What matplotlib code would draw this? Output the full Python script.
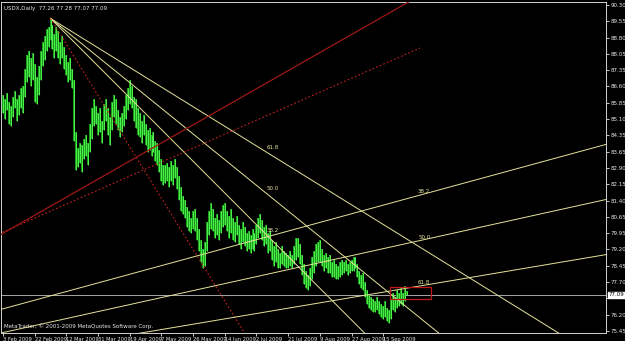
import numpy as np
import matplotlib
matplotlib.use("Agg")
import matplotlib.pyplot as plt
from matplotlib.patches import Rectangle
import matplotlib.transforms as mtransforms

# daily bars, USDX
highs = [86.2, 86.0, 86.3, 85.9, 85.7, 86.1, 86.4, 86.0, 86.2, 86.5,
         86.6, 87.4, 88.0, 88.2, 87.9, 88.1, 87.6, 87.0, 87.5, 88.2,
         88.6, 88.9, 89.2, 89.3, 89.7, 89.4, 89.0, 89.3, 89.1, 88.6,
         88.9, 88.4, 88.0, 87.7, 87.9, 87.4, 86.9, 84.5, 83.8, 84.0,
         83.9, 84.2, 84.4, 84.0, 84.9, 85.6, 86.0, 85.7, 85.4, 85.6,
         85.0, 85.8, 86.0, 85.6, 85.2, 85.9, 86.2, 86.0, 85.5, 85.2,
         85.4, 85.7, 86.2, 86.5, 86.9, 86.6, 86.1, 86.0, 85.6, 85.4,
         85.0, 85.3, 84.9, 84.6, 84.7, 84.4, 84.5, 84.1, 84.0, 83.7,
         83.3, 83.0, 83.0, 83.1, 82.9, 83.2, 83.0, 83.3, 82.9, 82.5,
         82.0, 81.6, 81.4, 81.1, 80.9, 80.6, 80.9, 81.0, 80.6, 80.1,
         79.6, 79.2, 79.5, 80.4, 80.9, 81.3, 81.0, 80.6, 80.8, 80.5,
         80.9, 81.2, 81.3, 80.9, 80.7, 81.0, 80.6, 80.4, 80.7, 80.3,
         80.1, 80.4, 80.2, 79.9, 80.0, 79.8, 80.1, 79.9, 80.3, 80.6,
         80.8, 80.5, 80.2, 80.3, 79.9, 80.0, 79.6, 79.3, 79.5, 79.2,
         79.0, 79.3, 79.1, 79.0, 78.9, 79.1, 78.9, 79.3, 79.7, 79.7,
         79.4, 78.9, 78.5, 78.2, 78.0, 78.3, 78.8, 79.1, 79.4, 79.5,
         79.6, 79.2, 78.9, 79.0, 78.8, 78.9, 78.6, 78.7, 78.5, 78.4,
         78.6, 78.7, 78.6, 78.7, 78.5, 78.6, 78.7, 78.8, 78.8, 78.5,
         78.2, 78.0, 78.1, 77.7, 77.3, 77.1, 77.0, 76.9, 76.8, 77.0,
         76.8, 76.7, 76.6, 76.8, 76.5, 76.4, 76.9, 77.2, 77.0, 77.3,
         77.2, 77.4, 77.2, 77.5, 77.28]
lows = [85.4, 85.1, 85.5, 84.9, 84.8, 85.2, 85.6, 85.0, 85.3, 85.6,
        85.4, 86.1, 86.8, 87.0, 86.6, 86.9, 85.9, 85.8, 86.2, 86.9,
        87.5, 87.8, 88.2, 88.4, 88.7, 88.3, 87.9, 88.2, 87.9, 87.6,
        87.9, 87.4, 87.1, 86.8, 86.9, 86.5, 84.1, 82.8, 82.9, 83.1,
        82.7, 83.3, 83.4, 83.0, 83.6, 84.2, 84.8, 84.9, 84.4, 84.5,
        84.0, 84.6, 85.0, 84.4, 83.9, 84.6, 85.2, 84.9, 84.6, 84.3,
        84.5, 84.8, 85.1, 85.5, 85.8, 85.6, 85.0, 84.7, 84.4, 84.3,
        84.0, 84.4, 83.9, 83.6, 83.7, 83.4, 83.6, 83.2, 83.0, 82.7,
        82.3, 82.1, 82.2, 82.3, 82.0, 82.3, 82.1, 82.4, 81.9, 81.4,
        80.9, 80.8, 80.6, 80.2, 80.0, 79.9, 80.1, 80.0, 79.6, 79.1,
        78.6, 78.3, 78.4, 79.1, 79.8, 80.1, 80.0, 79.7, 79.8, 79.6,
        79.9, 80.2, 80.3, 80.0, 79.7, 79.9, 79.6, 79.5, 79.8, 79.4,
        79.2, 79.5, 79.3, 79.1, 79.2, 79.0, 79.2, 79.1, 79.4, 79.7,
        79.9, 79.6, 79.3, 79.4, 79.0, 79.1, 78.7, 78.4, 78.6, 78.3,
        78.3, 78.5, 78.4, 78.3, 78.3, 78.4, 78.3, 78.5, 78.7, 78.8,
        78.5, 78.0, 77.6, 77.4, 77.3, 77.5, 77.8, 78.1, 78.4, 78.6,
        78.6, 78.4, 78.2, 78.3, 78.1, 78.1, 77.9, 77.9, 77.8, 77.8,
        77.9, 78.0, 78.1, 78.2, 78.0, 78.1, 78.2, 78.2, 78.3, 77.9,
        77.6, 77.4, 77.3, 77.0, 76.7, 76.5, 76.4, 76.3, 76.3, 76.4,
        76.2, 76.1, 76.0, 76.1, 75.9, 75.8, 76.0, 76.4, 76.3, 76.5,
        76.6, 76.7, 76.6, 76.8, 77.07]

date_labels = ["3 Feb 2009", "22 Feb 2009", "12 Mar 2009", "31 Mar 2009",
               "19 Apr 2009", "7 May 2009", "26 May 2009", "14 Jun 2009",
               "2 Jul 2009", "21 Jul 2009", "9 Aug 2009", "27 Aug 2009",
               "15 Sep 2009"]
date_pos = [0, 16, 32, 48, 64, 80, 96, 112, 128, 144, 160, 176, 192]

# 76.95 sits under the current price box, so it is left blank
price_labels = ["90.30", "89.55", "88.80", "88.05", "87.35", "86.60", "85.85",
                "85.10", "84.35", "83.65", "82.90", "82.15", "81.40", "80.65",
                "79.95", "79.20", "78.45", "77.70", "", "76.20", "75.45"]
price_top = 90.30
price_step = 0.7425

last_price = 77.09
fib_levels = [0.382, 0.5, 0.618]
fib_names = ["38.2", "50.0", "61.8"]

# fan from the March high (bar index, price)
fan_dn = [(24, 89.69), (132.3, 73.85)]
# fan from the 2008 low, off the chart on the left
fan_up = [(-230, 70.80), (210.6, 88.34)]
# plain trend line
trend_red = [(-1.5, 79.82), (206.6, 90.53)]
# box around the last bars
box = [(195.5, 76.91), (216.2, 77.45)]

YEL = "#e6e39a"
BG = "black"
FG = "#e8e8e8"
FS = 4.0

fig = plt.figure(figsize=(6.25, 3.41), dpi=100, facecolor=BG)
ax = fig.add_axes([1 / 625, 8 / 341, 605 / 625, 331 / 341], facecolor=BG)
ax.set_xlim(-1.0, 304.5)
ax.set_ylim(75.357, 90.437)

x = np.arange(len(highs))
ax.vlines(x, lows, highs, color="#1c9a1c", lw=1.5, zorder=3)
ax.vlines(x, lows, highs, color="#4cf04c", lw=0.7, zorder=3)

xr = np.array([-300.0, 400.0])


def ray(p1, p2, xs):
    k = (p2[1] - p1[1]) / (p2[0] - p1[0])
    return p1[1] + k * (xs - p1[0])


# downward fan
(ax0, ay0), (bx0, by0) = fan_dn
for lev, name in zip(fib_levels, fib_names):
    p = by0 + lev * (ay0 - by0)
    xs = np.array([ax0, 400.0])
    ax.plot(xs, ray((ax0, ay0), (bx0, p), xs), color=YEL, lw=0.7, zorder=4)
    ax.text(bx0 + 1, p + 0.08, name, color=YEL, fontsize=FS, zorder=6)
ax.plot([ax0, bx0], [ay0, by0], color="#c82020", lw=0.8, ls=(0, (1.5, 2)), zorder=4)

# upward fan
(ax1, ay1), (bx1, by1) = fan_up
for lev, name in zip(fib_levels, fib_names):
    p = by1 - lev * (by1 - ay1)
    xs = np.array([ax1, 400.0])
    ax.plot(xs, ray((ax1, ay1), (bx1, p), xs), color=YEL, lw=0.7, zorder=4)
    ax.text(bx1 - 1, p + 0.08, name, color=YEL, fontsize=FS, zorder=6)
ax.plot([ax1, bx1], [ay1, by1], color="#c82020", lw=0.8, ls=(0, (1.5, 2)), zorder=4)

# red trend line
ax.plot(xr, ray(trend_red[0], trend_red[1], xr), color="#a01818", lw=0.9, zorder=4)

# box and bid line
(b0x, b0y), (b1x, b1y) = box
ax.add_patch(Rectangle((b0x, b0y), b1x - b0x, b1y - b0y, fill=False,
                       ec="#c01818", lw=0.9, zorder=5))
ax.axhline(last_price, color="#a8a8a8", lw=0.7, zorder=2)

# price scale on the right
ax.yaxis.tick_right()
yt = [price_top - k * price_step for k in range(len(price_labels))]
ax.set_yticks(yt)
ax.set_yticklabels(price_labels)
ax.tick_params(axis="y", colors=FG, labelsize=FS, length=2, width=0.6, pad=1.2)

# time scale
ax.set_xticks(date_pos)
ax.set_xticklabels(date_labels)
ax.tick_params(axis="x", colors=FG, labelsize=3.7, length=2, width=0.6, pad=1.0)
for lb in ax.get_xticklabels():
    lb.set_ha("left")

for s in ax.spines.values():
    s.set_color("#d0d0d0")
    s.set_linewidth(0.7)

trans = mtransforms.blended_transform_factory(ax.transAxes, ax.transData)
ax.text(1.004, last_price, "77.09", transform=trans, fontsize=FS, color="black",
        va="center", ha="left", zorder=10,
        bbox=dict(boxstyle="square,pad=0.1", fc="white", ec="white"))

ax.text(0.005, 0.988, "USDX,Daily  77.26 77.28 77.07 77.09", transform=ax.transAxes,
        color=FG, fontsize=FS, va="top", ha="left")
ax.text(0.005, 0.012, "MetaTrader, \u00a9 2001-2009 MetaQuotes Software Corp.",
        transform=ax.transAxes, color=FG, fontsize=FS, va="bottom", ha="left")

fig.savefig("out.png", dpi=100, facecolor=BG)
